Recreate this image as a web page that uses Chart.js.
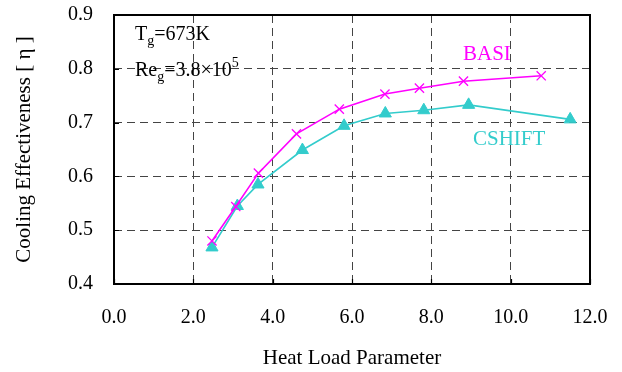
<!DOCTYPE html>
<html>
<head>
<meta charset="utf-8">
<script src="https://cdn.jsdelivr.net/npm/chart.js@4.4.1/dist/chart.umd.min.js"></script>
<style>
  html, body { margin: 0; padding: 0; background: #fff; }
  #wrap { width: 622px; height: 372px; }
</style>
</head>
<body>
<div id="wrap"><canvas id="c" width="622" height="372"></canvas></div>
<script>
// Heat load parameter vs. cooling effectiveness
const basiX = [2.47, 3.07, 3.64, 4.60, 5.68, 6.83, 7.70, 8.81, 10.77];
const basiY = [0.480, 0.544, 0.606, 0.679, 0.725, 0.753, 0.764, 0.777, 0.787];
const cshiftX = [2.47, 3.11, 3.63, 4.75, 5.80, 6.84, 7.81, 8.94, 11.50];
const cshiftY = [0.468, 0.545, 0.585, 0.649, 0.694, 0.717, 0.723, 0.733, 0.706];
const xTicks = [0, 2, 4, 6, 8, 10, 12];
const yTicks = [0.4, 0.5, 0.6, 0.7, 0.8, 0.9];

const MAGENTA = '#FF00FF';
const CYAN = '#33CCCC';
const SERIF = '"Liberation Serif", "Times New Roman", serif';

const toPoints = (xs, ys) => xs.map((x, i) => ({ x: x, y: ys[i] }));

// keep overflowing tick labels from shrinking the plot area
const noLabelPadding = s => {
  s.paddingTop = 0; s.paddingBottom = 0; s.paddingLeft = 0; s.paddingRight = 0;
};

// frame, inward tick marks and text annotations
const decorations = {
  id: 'decorations',
  afterDraw(chart) {
    const { ctx, chartArea: a, scales } = chart;
    ctx.save();
    ctx.strokeStyle = '#000';
    ctx.lineWidth = 1.2;
    ctx.beginPath();
    xTicks.forEach(v => {
      const px = Math.round(scales.x.getPixelForValue(v)) + 0.5;
      ctx.moveTo(px, a.bottom);
      ctx.lineTo(px, a.bottom - 5);
    });
    yTicks.forEach(v => {
      const py = Math.round(scales.y.getPixelForValue(v)) + 0.5;
      ctx.moveTo(a.left, py);
      ctx.lineTo(a.left + 5, py);
    });
    ctx.stroke();

    ctx.lineWidth = 2;
    ctx.strokeRect(a.left, a.top, a.right - a.left, a.bottom - a.top);

    // series labels
    ctx.textBaseline = 'alphabetic';
    ctx.font = '21px ' + SERIF;
    ctx.fillStyle = MAGENTA;
    ctx.fillText('BASI', 463, 60);
    ctx.fillStyle = CYAN;
    ctx.fillText('CSHIFT', 473, 145);

    // condition labels with sub/superscripts
    ctx.fillStyle = '#000';
    const big = '20px ' + SERIF, small = '14px ' + SERIF;
    const run = (parts, x, y) => {
      parts.forEach(p => {
        ctx.font = p.s ? small : big;
        ctx.fillText(p.t, x, y + (p.s || 0));
        x += ctx.measureText(p.t).width;
      });
    };
    run([{ t: 'T' }, { t: 'g', s: 5 }, { t: '=673K' }], 135, 40);
    run([{ t: 'Re' }, { t: 'g', s: 5 }, { t: '=3.8\u00D710' }, { t: '5', s: -9 }], 135, 76);
    ctx.restore();
  }
};

new Chart(document.getElementById('c'), {
  type: 'line',
  data: {
    datasets: [
      {
        label: 'BASI',
        data: toPoints(basiX, basiY),
        borderColor: MAGENTA,
        backgroundColor: MAGENTA,
        borderWidth: 1.6,
        pointStyle: 'crossRot',
        pointRadius: 6.5,
        pointBorderWidth: 1.3,
        pointBorderColor: MAGENTA,
        tension: 0
      },
      {
        label: 'CSHIFT',
        data: toPoints(cshiftX, cshiftY),
        borderColor: CYAN,
        backgroundColor: CYAN,
        borderWidth: 1.6,
        pointStyle: 'triangle',
        pointRadius: 7,
        pointBorderWidth: 1,
        pointBorderColor: CYAN,
        tension: 0
      }
    ]
  },
  options: {
    responsive: false,
    animation: false,
    devicePixelRatio: 1,
    layout: { padding: { left: 0, right: 32, top: 15, bottom: 0 } },
    plugins: { legend: { display: false }, tooltip: { enabled: false } },
    scales: {
      x: {
        type: 'linear',
        min: 0, max: 12,
        afterBuildTicks: s => { s.ticks = xTicks.map(v => ({ value: v })); },
        afterFit: s => { s.height = 88; noLabelPadding(s); },
        ticks: {
          padding: 22,
          color: '#000',
          font: { family: SERIF, size: 20 },
          callback: v => v.toFixed(1)
        },
        grid: { color: '#444', lineWidth: 1, drawTicks: false },
        border: { display: false, dash: [8, 5] },
        title: {
          display: true,
          text: 'Heat Load Parameter',
          color: '#000',
          font: { family: SERIF, size: 21 },
          padding: { top: 0, bottom: 1 }
        }
      },
      y: {
        type: 'linear',
        min: 0.4, max: 0.9,
        afterBuildTicks: s => { s.ticks = yTicks.map(v => ({ value: v })); },
        afterFit: s => { s.width = 114; noLabelPadding(s); },
        ticks: {
          padding: 21,
          color: '#000',
          font: { family: SERIF, size: 20 },
          callback: v => v.toFixed(1)
        },
        grid: { color: '#444', lineWidth: 1, drawTicks: false },
        border: { display: false, dash: [8, 5] },
        title: {
          display: true,
          text: 'Cooling Effectiveness [ \u03B7 ]',
          color: '#000',
          font: { family: SERIF, size: 21 },
          padding: { top: 12, bottom: 0 }
        }
      }
    }
  },
  plugins: [decorations]
});
</script>
</body>
</html>
